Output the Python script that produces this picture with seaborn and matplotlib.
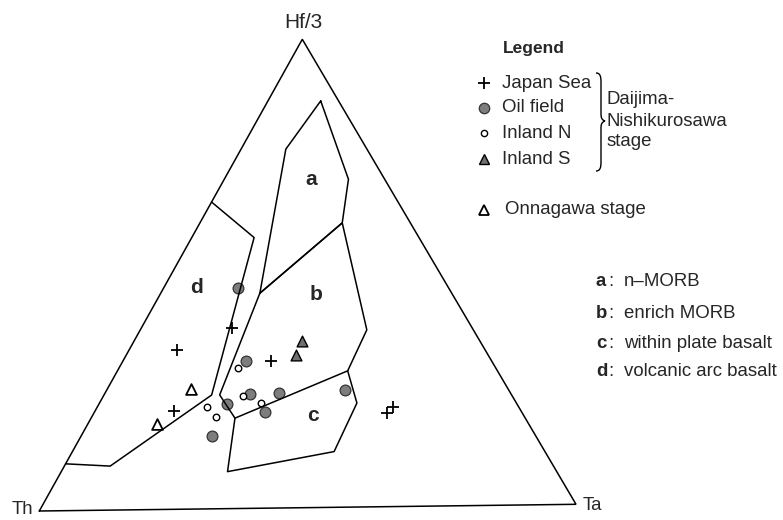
import numpy as np
import pandas as pd
import matplotlib
matplotlib.use("Agg")
import matplotlib.pyplot as plt
import seaborn as sns
from matplotlib.path import Path
from matplotlib.patches import PathPatch

sns.set_theme(style="white")
plt.rcParams['font.family'] = ['Liberation Sans', 'DejaVu Sans']

# ---------------- data: compositions in percent (Th, Hf/3, Ta) ----------------
japan_th = [44.5, 57.1, 40.7, 64.1, 23.2, 25.0]
japan_hf = [38.5, 33.9, 31.5, 21.0, 21.3, 20.1]
japan_ta = [17.0, 9.0, 27.8, 14.9, 55.5, 54.9]

oil_th = [39.1, 45.4, 48.3, 42.7, 53.7, 47.4, 30.3, 60.0]
oil_hf = [47.0, 31.5, 24.4, 24.6, 22.3, 20.5, 25.0, 15.5]
oil_ta = [13.9, 23.1, 27.3, 32.7, 24.0, 32.1, 44.7, 24.5]

inN_th = [47.7, 49.8, 47.2, 57.7, 57.2]
inN_hf = [29.9, 24.1, 22.5, 21.8, 19.5]
inN_ta = [22.4, 26.1, 30.3, 20.5, 23.3]

inS_th = [33.0, 35.6]
inS_hf = [35.5, 32.6]
inS_ta = [31.5, 31.8]

onna_th = [58.7, 68.7]
onna_hf = [25.6, 18.2]
onna_ta = [15.7, 13.1]

# field boundaries (Th, Hf/3, Ta)
field_a_th = [3.3, 6.7, 12.6, 35.5, 15.0, 3.3]
field_a_hf = [86.8, 70.0, 60.7, 45.9, 76.6, 86.8]
field_a_ta = [9.9, 23.3, 26.7, 18.6, 8.4, 9.9]

field_b_th = [35.5, 12.6, 19.7, 27.7, 53.7, 54.0, 35.5]
field_b_hf = [45.9, 60.7, 37.8, 29.1, 19.3, 24.3, 45.9]
field_b_ta = [18.6, 26.7, 42.5, 43.2, 27.0, 21.7, 18.6]

field_c_th = [53.7, 60.9, 39.0, 29.5, 27.7]
field_c_hf = [19.3, 7.9, 11.9, 22.2, 29.1]
field_c_ta = [27.0, 31.2, 49.1, 48.3, 43.2]

field_d_th = [34.5, 30.5, 55.5, 82.0, 90.0]
field_d_hf = [65.5, 57.8, 24.3, 9.4, 10.0]
field_d_ta = [0.0, 11.7, 20.2, 8.6, 0.0]

field_labels = ["a", "b", "c", "d"]
label_th = [13.5, 25.2, 39.0, 46.5]
label_hf = [70.1, 45.4, 19.6, 47.3]
label_ta = [16.4, 29.4, 41.4, 6.2]

field_names = ["n\u2013MORB", "enrich MORB", "within plate basalt", "volcanic arc basalt"]
legend_names = ["Japan Sea", "Oil field", "Inland N", "Inland S"]

# ---------------- ternary -> canvas (pixel) transform ----------------
V_TH = (39.3, 511.0)
V_TA = (576.0, 504.3)
V_HF = (302.3, 39.3)


def tern(th, hf, ta):
    th, hf, ta = (np.asarray(v, float) for v in (th, hf, ta))
    s = th + hf + ta
    x = (th * V_TH[0] + hf * V_HF[0] + ta * V_TA[0]) / s
    y = (th * V_TH[1] + hf * V_HF[1] + ta * V_TA[1]) / s
    return x, y


fig = plt.figure(figsize=(7.83, 5.20), dpi=100)
ax = fig.add_axes([0, 0, 1, 1])
ax.set_xlim(0, 783)
ax.set_ylim(520, 0)
ax.axis("off")

LW = 1.1
FS = 13.4

# triangle
tx, ty = tern([100, 0, 0, 100], [0, 0, 100, 0], [0, 100, 0, 0])
ax.plot(tx, ty, color="black", lw=LW, solid_joinstyle="miter")

# fields
for th, hf, ta in [(field_a_th, field_a_hf, field_a_ta),
                   (field_b_th, field_b_hf, field_b_ta),
                   (field_c_th, field_c_hf, field_c_ta),
                   (field_d_th, field_d_hf, field_d_ta)]:
    fx, fy = tern(th, hf, ta)
    ax.plot(fx, fy, color="black", lw=LW)

lx, ly = tern(label_th, label_hf, label_ta)
for lab, x, y in zip(field_labels, lx, ly):
    ax.text(x, y, lab, ha="center", va="center", fontsize=15, fontweight="bold")

# corner labels
ax.text(303, 22, "Hf/3", ha="center", va="center", fontsize=15)
ax.text(22.5, 510, "Th", ha="center", va="center", fontsize=FS)
ax.text(592.5, 505, "Ta", ha="center", va="center", fontsize=FS)

# samples
def frame(th, hf, ta):
    x, y = tern(th, hf, ta)
    return pd.DataFrame({"x": x, "y": y})

GRAY = "#7d7d7d"
sns.scatterplot(data=frame(japan_th, japan_hf, japan_ta), x="x", y="y", ax=ax,
                marker="+", color="black", s=70, linewidth=1.3, legend=False)
sns.scatterplot(data=frame(oil_th, oil_hf, oil_ta), x="x", y="y", ax=ax,
                marker="o", color=GRAY, edgecolor="#333333", s=60, linewidth=0.9, legend=False)
sns.scatterplot(data=frame(inN_th, inN_hf, inN_ta), x="x", y="y", ax=ax,
                marker="o", color="white", edgecolor="black", s=22, linewidth=1.0, legend=False)
sns.scatterplot(data=frame(inS_th, inS_hf, inS_ta), x="x", y="y", ax=ax,
                marker="^", color="#6f6f6f", edgecolor="black", s=60, linewidth=1.0, legend=False)
sns.scatterplot(data=frame(onna_th, onna_hf, onna_ta), x="x", y="y", ax=ax,
                marker="^", color="white", edgecolor="black", s=60, linewidth=1.3, legend=False)

# ---------------- legend (drawn manually) ----------------
ax.text(502.5, 49, "Legend", ha="left", va="center", fontsize=12.5, fontweight="bold")
row_y = [83, 108, 133, 159]
mk_x = 484
ax.plot([mk_x], [row_y[0]], marker="+", color="black", ms=9, mew=1.3, ls="none")
ax.plot([mk_x], [row_y[1]], marker="o", mfc=GRAY, mec="#333333", ms=7.5, mew=0.9, ls="none")
ax.plot([mk_x], [row_y[2]], marker="o", mfc="white", mec="black", ms=4.5, mew=1.0, ls="none")
ax.plot([mk_x], [row_y[3]], marker="^", mfc="#6f6f6f", mec="black", ms=7.5, mew=1.0, ls="none")
for name, y in zip(legend_names, row_y):
    ax.text(502, y, name, ha="left", va="center", fontsize=FS)

# brace
verts = [(596, 73), (600, 73), (601, 76), (601, 82),
         (601, 114),
         (601, 118), (602, 120), (605, 121),
         (602, 122), (601, 124), (601, 128),
         (601, 162),
         (601, 168), (600, 171), (596, 171)]
codes = [Path.MOVETO, Path.CURVE4, Path.CURVE4, Path.CURVE4,
         Path.LINETO,
         Path.CURVE4, Path.CURVE4, Path.CURVE4,
         Path.CURVE4, Path.CURVE4, Path.CURVE4,
         Path.LINETO,
         Path.CURVE4, Path.CURVE4, Path.CURVE4]
ax.add_patch(PathPatch(Path(verts, codes), fill=False, lw=1.0, edgecolor="black"))
ax.text(607, 100, "Daijima-", ha="left", va="center", fontsize=FS)
ax.text(607, 121, "Nishikurosawa", ha="left", va="center", fontsize=FS)
ax.text(607, 141, "stage", ha="left", va="center", fontsize=FS)

ax.plot([mk_x], [210], marker="^", mfc="white", mec="black", ms=7.5, mew=1.3, ls="none")
ax.text(505, 209, "Onnagawa stage", ha="left", va="center", fontsize=FS)

# field key
key_y = [282, 313, 343, 372]
for lab, name, y in zip(field_labels, field_names, key_y):
    ax.text(596, y, lab, ha="left", va="center", fontsize=FS, fontweight="bold")
    ax.text(608, y, ":", ha="left", va="center", fontsize=FS)
    ax.text(624, y, name, ha="left", va="center", fontsize=FS)

fig.savefig("out.png", dpi=100)
